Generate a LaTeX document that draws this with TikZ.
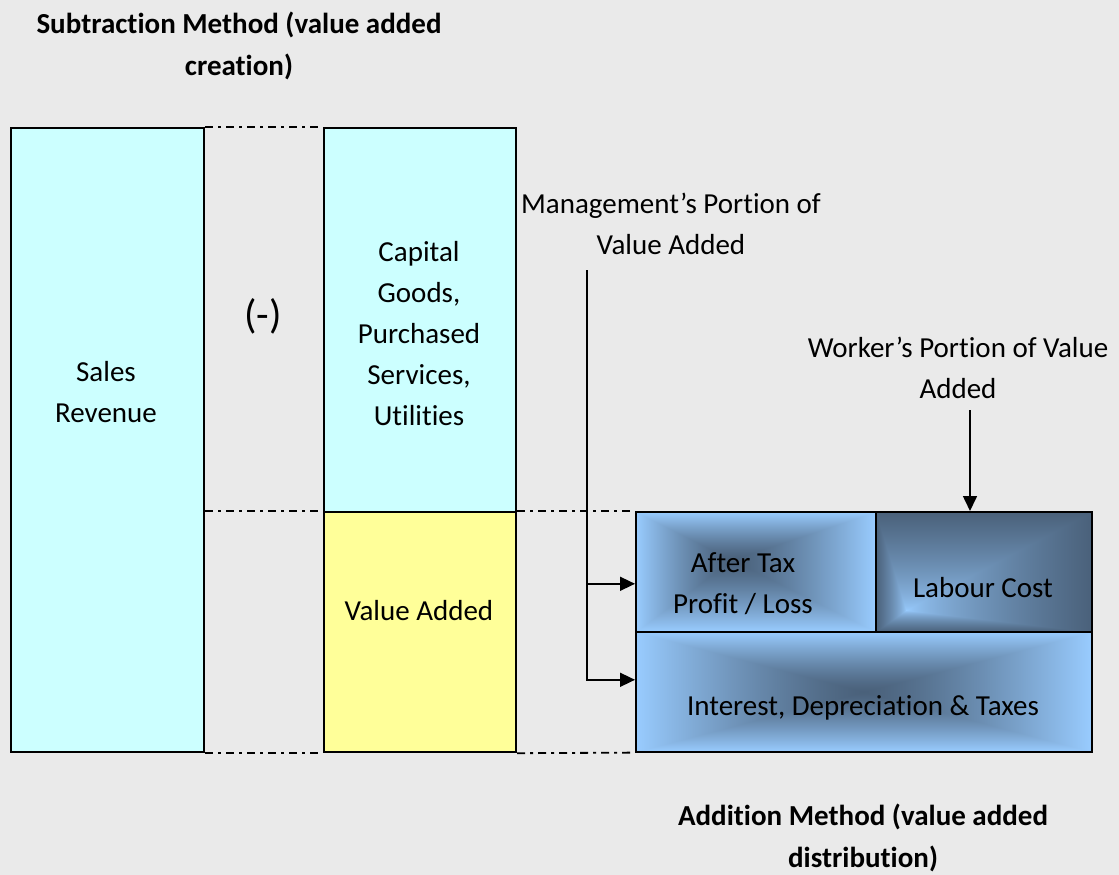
\documentclass[tikz,border=0pt]{standalone}
\usepackage{fontspec}
\setmainfont{Carlito}[Ligatures={NoCommon,NoContextual},RawFeature={-liga;-calt}]
\usetikzlibrary{arrows.meta,positioning}

\definecolor{paper}{HTML}{EAEAEA}
\definecolor{palecyan}{HTML}{CCFFFF}
\definecolor{paleyellow}{HTML}{FFFF99}

% blue glow fills: light blue rim, slate centre (or the other way round)
\pgfdeclarefunctionalshading{taxglow}{\pgfpointorigin}{\pgfpoint{100bp}{100bp}}{}{
  dup 55 lt {55 exch sub 30 div} {55 sub 20 div} ifelse
  exch
  dup 45 lt {45 exch sub 20 div} {45 sub 30 div} ifelse
  2 copy lt {exch} if pop
  dup 1 gt {pop 1} if
  1.3 exp
  dup 0.31 mul 0.29 add exch dup 0.42 mul 0.38 add exch 0.52 mul 0.48 add
}
\pgfdeclarefunctionalshading{interestglow}{\pgfpointorigin}{\pgfpoint{100bp}{100bp}}{}{
  50 sub abs 25 div
  exch
  50 sub abs 25 div
  2 copy lt {exch} if pop
  dup 1 gt {pop 1} if
  1.3 exp
  dup 0.31 mul 0.29 add exch dup 0.42 mul 0.38 add exch 0.52 mul 0.48 add
}
\pgfdeclarefunctionalshading{labourglow}{\pgfpointorigin}{\pgfpoint{100bp}{100bp}}{}{
  dup 34 lt {34 exch sub 9 div} {34 sub 41 div} ifelse
  exch
  dup 32 lt {32 exch sub 7 div} {32 sub 43 div} ifelse
  2 copy lt {exch} if pop
  dup 1 gt {pop 1} if
  0.7 exp
  dup -0.31 mul 0.6 add exch dup -0.42 mul 0.8 add exch -0.52 mul 1.0 add
}

\begin{document}
\begin{tikzpicture}[x=1pt,y=-1pt,
    block/.style={draw=black,line width=2.2pt,anchor=north west,inner sep=0pt},
    share/.style={draw=black,line width=1.6pt,anchor=north west,inner sep=0pt},
    txt/.style={align=center,font=\fontsize{29}{41}\selectfont},
    head/.style={align=center,font=\bfseries\fontsize{29}{42}\selectfont},
    guide/.style={line width=1.8pt,dash pattern=on 8pt off 5pt on 3pt off 5pt},
    pointer/.style={-{Triangle[length=15pt,width=14pt]},line width=1.6pt}
  ]
    \fill[paper] (0,0) rectangle (1119,875);
    \useasboundingbox (0,0) rectangle (1119,875);

    % creation side
    \node[block,fill=palecyan,minimum width=193pt,minimum height=624pt] (sales) at (10,127) {};
    \node[block,fill=palecyan,minimum width=192pt,minimum height=384pt] (bought) at (323,127) {};
    \node[block,fill=paleyellow,minimum width=192pt,minimum height=240pt] (added) at (323,511) {};

    % distribution side
    \node[share,shading=taxglow,minimum width=240pt,minimum height=120pt] (aftertax) at (635,511) {};
    \node[share,shading=labourglow,minimum width=216pt,minimum height=120pt] (labour) at (875,511) {};
    \node[share,shading=interestglow,minimum width=456pt,minimum height=120pt] (interest) at (635,631) {};

    \draw[guide] (sales.north east) -- (bought.north west);
    \draw[guide] (sales.east |- added.north west) -- (added.north west);
    \draw[guide] (added.north east) -- (aftertax.north west);
    \draw[guide] (sales.south east) -- (added.south west);
    \draw[guide] (added.south east) -- (interest.south west);

    \node[head] (subhead) at (239,46) {Subtraction Method (value added\\creation)};
    \node[head] (addhead) at (863,838) {Addition Method (value added\\distribution)};
    \node[font=\fontsize{41}{48}\selectfont] (minus) at (263,316) {(-)};
    \node[txt] (salestxt) at (106,392) {Sales\\Revenue};
    \node[txt] (boughttxt) at (419,334) {Capital\\Goods,\\Purchased\\Services,\\Utilities};
    \node[txt] (addedtxt) at (419,611) {Value Added};
    \node[txt] (mgmttxt) at (671,224) {Management’s Portion of\\Value Added};
    \node[txt] (wrktxt) at (958,368) {Worker’s Portion of Value\\Added};
    \node[txt] (taxtxt) at (743,584) {After Tax\\Profit / Loss};
    \node[txt] (labourtxt) at (983,588) {Labour Cost};
    \node[txt] (interesttxt) at (863,708) {Interest, Depreciation \& Taxes};

    \coordinate (mgmt) at (587,270);
    \coordinate (wrk) at (970,410);
    \draw[pointer] (mgmt) |- ([yshift=-12pt]aftertax.west);
    \draw[pointer] (mgmt) |- ([yshift=12pt]interest.west);
    \draw[pointer] (wrk) -- (wrk |- labour.north);
  \end{tikzpicture}
\end{document}
